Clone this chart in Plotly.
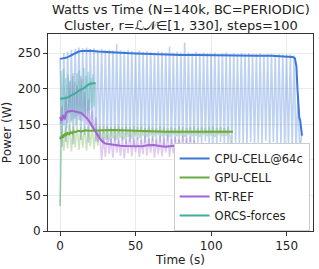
import numpy as np
import plotly.graph_objects as go

# ---------------- data ----------------
series_names = ["CPU-CELL@64c", "GPU-CELL", "RT-REF", "ORCS-forces"]
colors = ["#3b78d8", "#6aab3f", "#a066d3", "#3fae98"]

# smoothed curves
cpu_t = [0, 2, 4, 6, 8, 10, 12, 14, 16, 20, 25, 30, 40, 50, 60, 70, 80, 90, 100, 110,
         120, 130, 140, 146, 150, 152, 154, 155.5, 156.5, 157.2, 157.8, 158.4, 159, 159.6, 160.2]
cpu_w = [242, 242.5, 243.5, 245.5, 248, 250.5, 252, 253, 253.5, 253.5, 252.5, 251.5, 250.5,
         249.5, 248.5, 248, 247.5, 247.5, 247, 247, 246.5, 246.5, 246.5, 246, 245.5, 245,
         244.5, 243, 232, 200, 172, 160, 156, 148, 134]

gpu_t = [0, 0.5, 1, 1.5, 2, 2.5, 3, 3.5, 4, 5, 6, 7, 8, 9, 10, 12, 14, 17, 20, 25, 30, 35,
         40, 45, 50, 55, 60, 70, 80, 90, 100, 110, 114.5]
gpu_w = [129, 133, 130, 135, 131, 136, 133, 138, 134, 138, 136, 139, 137, 140, 139, 141, 140,
         141.5, 141, 141.5, 142, 142, 141.5, 141, 140.5, 140, 139.5, 139.5, 139.5, 139.5,
         139.5, 139.5, 139.5]

rt_t = [0, 1, 2, 3, 4, 5, 6, 8, 10, 12, 14, 16, 18, 20, 22, 24, 26, 28, 30, 33, 36, 40, 44,
        48, 51, 54, 58, 62, 66, 70, 74, 78, 82, 86, 89, 91.7]
rt_w = [160, 155, 163, 157, 166, 168, 168, 169, 168, 167, 166, 162, 158, 152, 145, 137, 131,
        126, 123, 122, 121, 120, 119.5, 119, 118.5, 119, 120.5, 121, 119.5, 118.5, 119.5,
        120.5, 120, 121, 120, 119.5]

orcs_t = [0, 1, 2, 3, 4, 5, 6, 7, 8, 9, 10, 11, 12, 13, 14, 15, 16, 17, 18, 19, 20, 21, 22, 23.5]
orcs_w = [186, 186, 186.5, 187, 187, 188, 189, 190, 192, 193, 194, 195, 197, 198, 199, 199,
          201, 203, 205, 206, 207, 207.5, 208, 208]

# raw (unsmoothed) power samples, uniform sampling interval
cpu_raw_dt = 1.25
cpu_raw_w = [
    243, 118, 250, 125, 252, 140, 255, 122, 256, 150, 258, 128, 257, 135, 258, 124,
    256, 145, 257, 126, 255, 130, 256, 122, 254, 128, 255, 121, 254, 126, 263, 120,
    254, 127, 253, 122, 255, 125, 253, 121, 252, 128, 254, 122, 252, 124, 253, 121,
    252, 126, 251, 122, 253, 125, 252, 120, 251, 127, 259, 122, 251, 124, 252, 121,
    251, 126, 265, 120, 251, 125, 250, 122, 252, 124, 250, 120, 251, 126, 250, 121,
    250, 123, 251, 119, 249, 125, 250, 121, 251, 122, 249, 119, 250, 124, 249, 120,
    250, 123, 249, 121, 250, 125, 249, 120, 249, 124, 250, 122, 248, 127, 249, 121,
    249, 125, 248, 120, 249, 123, 248, 119, 248, 121, 248, 118, 247, 116, 190, 113,
    135]

gpu_raw_dt = 1.25
gpu_raw_w = [
    35,
    148, 113, 146, 116, 149, 112, 147, 118, 150, 114, 146, 117, 148, 113, 147, 119,
    149, 115, 146, 120, 148, 125, 147, 128, 148, 126, 146, 130, 147, 128, 148, 131,
    146, 129, 147, 132, 146, 130, 147, 133, 146, 131, 147, 134, 145, 132, 147, 134,
    146, 133, 145, 135, 147, 133, 146, 134, 145, 132, 146, 135, 145, 133, 147, 134,
    146, 132, 145, 135, 146, 133, 147, 134, 145, 132, 146, 135, 145, 133, 146, 134,
    147, 132, 145, 135, 146, 133, 145, 134, 146, 133,
    112]

rt_raw_dt = 1.25
rt_raw_w = [
    150,
    175, 148, 190, 152, 210, 155, 222, 158, 205, 156, 218, 154, 195, 150, 185, 147,
    170, 140, 160, 125, 140, 100, 132, 104, 135, 108, 130, 103, 134, 110, 128, 106,
    133, 102, 129, 109, 136, 105, 130, 111, 132, 104, 128, 108, 135, 106, 130, 110,
    133, 103, 129, 108, 134, 105, 131, 110, 136, 104, 130, 109, 132, 106, 129, 111,
    134, 105, 130, 108, 133, 107, 128, 110,
    120]

orcs_raw_dt = 0.75
orcs_raw_w = [35, 225, 150, 228, 160, 215, 145, 220, 165, 212, 152, 218, 158, 210, 148, 222,
              162, 226, 155, 214, 165, 229, 160, 218, 168, 224, 170, 215, 172, 220, 175, 208]

x_ticks = [0, 50, 100, 150]
y_ticks = [0, 50, 100, 150, 200, 250]

title_line1 = "Watts vs Time (N=140k, BC=PERIODIC)"
title_line2 = "Cluster, r=ℒ𝒩∈[1, 330], steps=100"

# ---------------- figure ----------------
fig = go.Figure()

raws = [(cpu_raw_w, cpu_raw_dt), (gpu_raw_w, gpu_raw_dt), (rt_raw_w, rt_raw_dt), (orcs_raw_w, orcs_raw_dt)]
for (vals, dt), col in zip(raws, colors):
    t = np.arange(len(vals)) * dt
    fig.add_trace(go.Scatter(x=t, y=vals, mode="lines", line=dict(color=col, width=1.6),
                             opacity=0.33, showlegend=False, hoverinfo="skip"))

smooths = [(cpu_t, cpu_w), (gpu_t, gpu_w), (rt_t, rt_w), (orcs_t, orcs_w)]
for (t, w), col, name in zip(smooths, colors, series_names):
    fig.add_trace(go.Scatter(x=t, y=w, mode="lines", line=dict(color=col, width=2), name=name))

axis_common = dict(showgrid=True, gridcolor="#ebebeb", gridwidth=1, showline=True,
                   linecolor="#333333", linewidth=1, mirror=True, ticks="outside",
                   ticklen=4, tickcolor="#333333", zeroline=False,
                   tickfont=dict(size=12, color="#222222"))

fig.update_layout(
    width=319, height=269,
    margin=dict(l=46, r=5, t=34, b=36),
    plot_bgcolor="white", paper_bgcolor="white",
    font=dict(family="DejaVu Sans", size=12, color="#222222"),
    xaxis=dict(range=[-8, 167.5], tickvals=x_ticks,
               title=dict(text="Time (s)", font=dict(size=12), standoff=2), **axis_common),
    yaxis=dict(range=[0, 277], tickvals=y_ticks,
               title=dict(text="Power (W)", font=dict(size=12), standoff=4), **axis_common),
    legend=dict(x=0.474, xanchor="left", y=0.0, yanchor="bottom", bgcolor="white",
                bordercolor="#cccccc", borderwidth=1, font=dict(size=11.5), tracegroupgap=0,
                itemwidth=30),
    annotations=[
        dict(text=title_line1, xref="paper", yref="paper", x=0.5, y=1.1256,
             xanchor="center", yanchor="middle", showarrow=False, font=dict(size=13)),
        dict(text=title_line2, xref="paper", yref="paper", x=0.5, y=1.045,
             xanchor="center", yanchor="middle", showarrow=False, font=dict(size=13)),
    ],
)

fig.write_html("out.html", config={"displayModeBar": False},
               post_script="document.body.style.margin='0';document.body.style.padding='0';")
